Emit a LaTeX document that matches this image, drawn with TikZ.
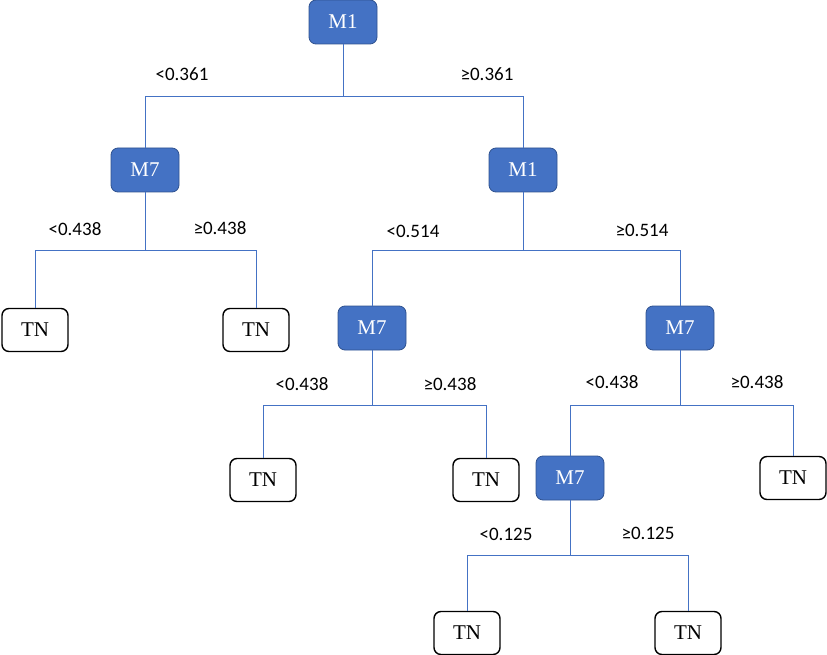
\documentclass[tikz,border=0pt]{standalone}
\usepackage{fontspec}
\setmainfont{Liberation Serif}
\newfontfamily\labelfont{Carlito}
\definecolor{splitblue}{HTML}{4472C4}
\definecolor{splitedge}{HTML}{2F528F}
\tikzset{
	split/.style={draw=splitedge, fill=splitblue, text=white, rectangle, rounded corners=7pt,
		line width=0.8pt, minimum width=68pt, minimum height=44pt, text centered,
		font=\fontsize{21}{24}\selectfont},
	leaf/.style={draw=black, fill=white, rectangle, rounded corners=7pt, line width=1.4pt,
		minimum width=66pt, minimum height=43pt, text centered,
		font=\fontsize{21}{24}\selectfont},
	cut/.style={font=\labelfont\fontsize{19}{22}\selectfont},
	link/.style={draw=splitblue, line width=0.8pt}
}
\begin{document}
\begin{tikzpicture}[x=1pt, y=-1pt]
		\useasboundingbox (0,0) rectangle (827,655);
		
		%Nodes
		\node (rootM1) at (343,22) [split]{M1};
		
		\node (leftM7) at (145,170) [split]{M7};
		
		\node (rightM1) at (523,170) [split]{M1};
		
		\node (firstTN) at (35,330) [leaf]{TN};
		
		\node (secondTN) at (256,330) [leaf]{TN};
		
		\node (midM7) at (372,328) [split]{M7};
		
		\node (farM7) at (680,328) [split]{M7};
		
		\node (thirdTN) at (263,480) [leaf]{TN};
		
		\node (fourthTN) at (486,480) [leaf]{TN};
		
		\node (lowM7) at (570,478) [split]{M7};
		
		\node (fifthTN) at (793,478) [leaf]{TN};
		
		\node (sixthTN) at (467,633) [leaf]{TN};
		
		\node (seventhTN) at (688,633) [leaf]{TN};
		
		%Links
		\draw[link] (rootM1.south) -- ++(0,52) -| (leftM7.north);
		\draw[link] (rootM1.south) -- ++(0,52) -| (rightM1.north);
		
		\draw[link] (leftM7.south) -- ++(0,58) -| (firstTN.north);
		\draw[link] (leftM7.south) -- ++(0,58) -| (secondTN.north);
		
		\draw[link] (rightM1.south) -- ++(0,58) -| (midM7.north);
		\draw[link] (rightM1.south) -- ++(0,58) -| (farM7.north);
		
		\draw[link] (midM7.south) -- ++(0,55) -| (thirdTN.north);
		\draw[link] (midM7.south) -- ++(0,55) -| (fourthTN.north);
		
		\draw[link] (farM7.south) -- ++(0,55) -| (lowM7.north);
		\draw[link] (farM7.south) -- ++(0,55) -| (fifthTN.north);
		
		\draw[link] (lowM7.south) -- ++(0,55) -| (sixthTN.north);
		\draw[link] (lowM7.south) -- ++(0,55) -| (seventhTN.north);
		
		%Thresholds
		\node (cutA) at (182,74) [cut]{<0.361};
		\node (cutB) at (487,74) [cut]{≥0.361};
		
		\node (cutC) at (75,229) [cut]{<0.438};
		\node (cutD) at (220,228) [cut]{≥0.438};
		
		\node (cutE) at (413,231) [cut]{<0.514};
		\node (cutF) at (642,230) [cut]{≥0.514};
		
		\node (cutG) at (302,384) [cut]{<0.438};
		\node (cutH) at (450,384) [cut]{≥0.438};
		
		\node (cutI) at (612,382) [cut]{<0.438};
		\node (cutJ) at (757,382) [cut]{≥0.438};
		
		\node (cutK) at (506,534) [cut]{<0.125};
		\node (cutL) at (648,533) [cut]{≥0.125};
\end{tikzpicture}
\end{document}
